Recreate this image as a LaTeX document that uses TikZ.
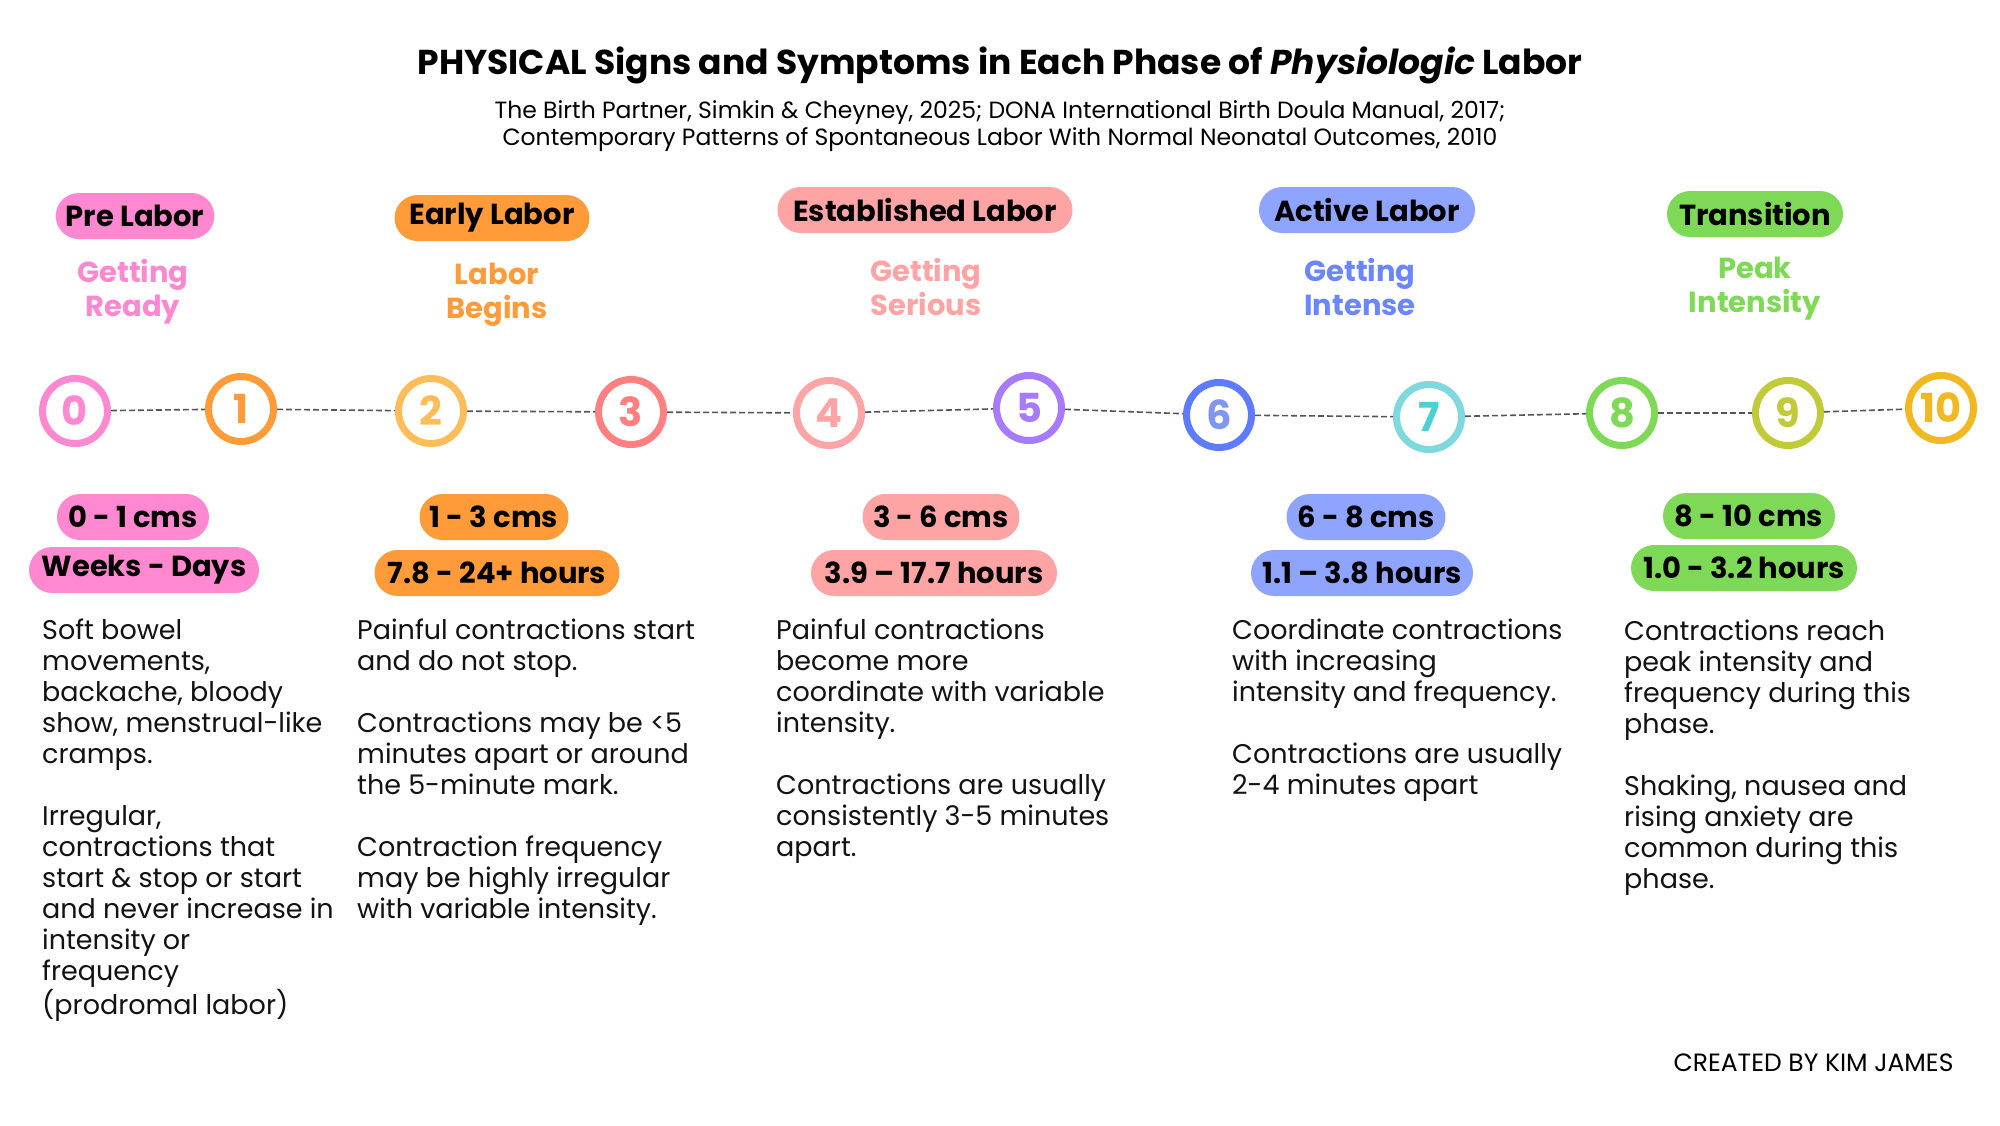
\documentclass[tikz,border=0pt]{standalone}
\usepackage{fontspec}
\setmainfont{Poppins}
\usetikzlibrary{backgrounds}

\definecolor{cPink}{HTML}{FF88D0}
\definecolor{cOrange}{HTML}{FF9B38}
\definecolor{cSalmon}{HTML}{FFA4A4}
\definecolor{cBlue}{HTML}{8FA4FF}
\definecolor{cGreen}{HTML}{7ED957}
\definecolor{tBlue}{HTML}{6B87FF}
\definecolor{rTwo}{HTML}{FFBD59}
\definecolor{rThree}{HTML}{FF8080}
\definecolor{rFive}{HTML}{A77BFF}
\definecolor{rSix}{HTML}{5E7BFF}
\definecolor{nSix}{HTML}{7F96F5}
\definecolor{rSeven}{HTML}{7ED8DD}
\definecolor{nSeven}{HTML}{4CD0D3}
\definecolor{rNine}{HTML}{C1CB3A}
\definecolor{rTen}{HTML}{F0B822}
\definecolor{dashgray}{HTML}{555555}

\begin{document}
\begin{tikzpicture}[x=1pt, y=-1pt,
    phase/.style={fill=#1, rounded corners=23pt, minimum height=46pt, inner xsep=10pt, inner ysep=0pt,
      font=\fontsize{29}{32}\selectfont\bfseries},
    range/.style={phase=#1},
    tag/.style={text=#1, align=center, inner sep=0pt, font=\fontsize{29}{34}\selectfont\bfseries},
    num/.style 2 args={circle, draw=#1, text=#2, line width=7pt, minimum size=65pt, inner sep=0pt,
      font=\fontsize{40}{42}\selectfont\bfseries},
    body/.style={anchor=north west, align=left, inner sep=0pt, text=black!93,
      font=\fontsize{27}{31}\selectfont},
    dashline/.style={draw=dashgray, line width=1.6pt, dash pattern=on 6pt off 3pt}]

  \fill[white] (0,0) rectangle (2000,1125);
  \useasboundingbox (0,0) rectangle (2000,1125);

  % ---------------- heading ----------------
  \node[font=\fontsize{34.5}{40}\selectfont\bfseries] (title) at (1000,65)
    {PHYSICAL Signs and Symptoms in Each Phase of \textit{Physiologic} Labor};
  \node[align=center, font=\fontsize{23.5}{27}\selectfont] (refs) at (1000,126)
    {The Birth Partner, Simkin \& Cheyney, 2025; DONA International Birth Doula Manual, 2017;\\
     Contemporary Patterns of Spontaneous Labor With Normal Neonatal Outcomes, 2010};

  % ---------------- phases ----------------
  \node[phase=cPink, minimum width=157pt] (pre) at (135,216) {Pre Labor};
  \node[phase=cOrange, minimum width=195pt] (early) at (492,218) {Early Labor};
  \node[phase=cSalmon, minimum width=295pt] (est) at (925,210) {Established Labor};
  \node[phase=cBlue, minimum width=216pt] (act) at (1367,210) {Active Labor};
  \node[phase=cGreen, minimum width=176pt] (trans) at (1755,214) {Transition};

  \node[tag=cPink] (preT) at (133,292) {Getting\\Ready};
  \node[tag=cOrange] (earlyT) at (497,295) {Labor\\Begins};
  \node[tag=cSalmon] (estT) at (926,287) {Getting\\Serious};
  \node[tag=tBlue] (actT) at (1360,287) {Getting\\Intense};
  \node[tag=cGreen] (transT) at (1755,289) {Peak\\Intensity};

  % ---------------- dilation line ----------------
  \foreach \n/\x/\y/\rc/\tc in {0/75/411/cPink/cPink, 1/241/409/cOrange/cOrange,
      2/431/411/rTwo/rTwo, 3/631/412/rThree/rThree, 4/829/413/cSalmon/cSalmon,
      5/1029/408/rFive/rFive, 6/1219/415/rSix/nSix, 7/1429/417/rSeven/nSeven,
      8/1622/413/cGreen/cGreen, 9/1788/413/rNine/rNine, 10/1941/408/rTen/rTen}
    \node[num={\rc}{\tc}] (c\n) at (\x,\y) {\n};
  \foreach \a [count=\b] in {0,...,9}
    \draw[dashline] (c\a) -- (c\b);

  % ---------------- ranges ----------------
  \node[range=cPink, minimum width=152pt] (preC) at (133,517) {0 - 1 cms};
  \node[range=cPink, minimum width=230pt] (preH) at (144,570) {Weeks - Days};
  \node[range=cOrange, minimum width=149pt] (earlyC) at (494,517) {1 - 3 cms};
  \node[range=cOrange, minimum width=245pt] (earlyH) at (497,573) {7.8 - 24+ hours};
  \node[range=cSalmon, minimum width=157pt] (estC) at (941,517) {3 - 6 cms};
  \node[range=cSalmon, minimum width=246pt] (estH) at (934,573) {3.9 – 17.7 hours};
  \node[range=cBlue, minimum width=159pt] (actC) at (1366,517) {6 - 8 cms};
  \node[range=cBlue, minimum width=222pt] (actH) at (1362,573) {1.1 – 3.8 hours};
  \node[range=cGreen, minimum width=172pt] (transC) at (1749,516) {8 - 10 cms};
  \node[range=cGreen, minimum width=226pt] (transH) at (1744,568) {1.0 - 3.2 hours};

  % ---------------- descriptions ----------------
  \node[body] (preD) at (42,619)
    {Soft bowel\\movements,\\backache, bloody\\show, menstrual-like\\cramps.\\[31pt]
     Irregular,\\contractions that\\start \& stop or start\\and never increase in\\intensity or\\frequency\\(prodromal labor)};
  \node[body] (earlyD) at (357,619)
    {Painful contractions start\\and do not stop.\\[31pt]
     Contractions may be <5\\minutes apart or around\\the 5-minute mark.\\[31pt]
     Contraction frequency\\may be highly irregular\\with variable intensity.};
  \node[body] (estD) at (776,619)
    {Painful contractions\\become more\\coordinate with variable\\intensity.\\[31pt]
     Contractions are usually\\consistently 3-5 minutes\\apart.};
  \node[body] (actD) at (1232,619)
    {Coordinate contractions\\with increasing\\intensity and frequency.\\[31pt]
     Contractions are usually\\2-4 minutes apart};
  \node[body] (transD) at (1624,620)
    {Contractions reach\\peak intensity and\\frequency during this\\phase.\\[31pt]
     Shaking, nausea and\\rising anxiety are\\common during this\\phase.};

  \node[anchor=east, font=\fontsize{25}{28}\selectfont] (credit) at (1957,1063) {CREATED BY KIM JAMES};
\end{tikzpicture}
\end{document}
